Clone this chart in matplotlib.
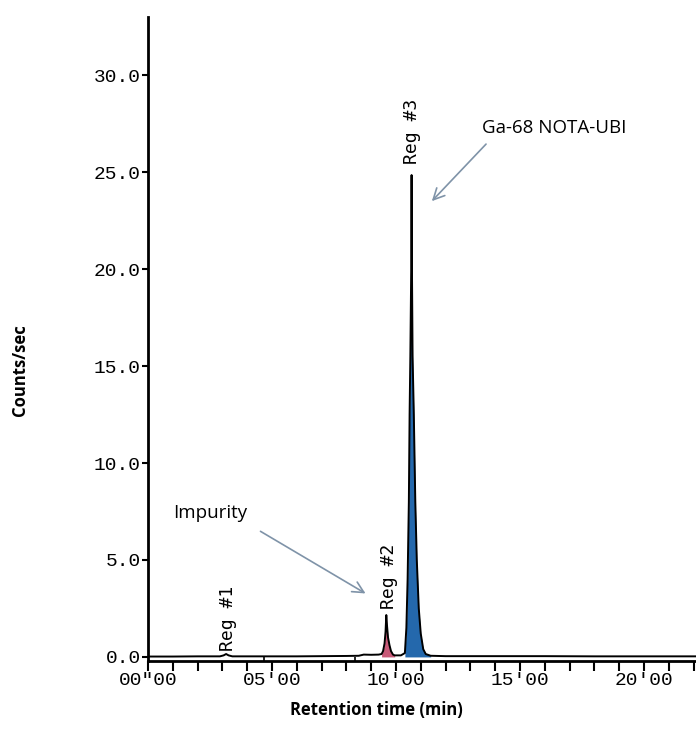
import matplotlib
matplotlib.use("Agg")
import matplotlib.pyplot as plt

# ---- data ----
time_min = [0.0, 1.0, 2.0, 2.9, 3.05, 3.15, 3.25, 3.4, 4.0, 5.0, 6.0, 7.0, 8.0, 8.5, 8.7,
            9.0, 9.3, 9.42, 9.48, 9.54, 9.58, 9.61, 9.64, 9.68, 9.74, 9.80, 9.88, 9.95,
            10.2, 10.36, 10.42, 10.47, 10.52, 10.55, 10.58, 10.615, 10.63, 10.645, 10.67,
            10.72, 10.78, 10.84, 10.92, 11.0, 11.1, 11.2, 11.4, 12.0, 14.0, 16.0, 18.0,
            20.0, 22.2]
counts = [0.02, 0.02, 0.03, 0.03, 0.08, 0.15, 0.08, 0.03, 0.03, 0.03, 0.03, 0.04, 0.05, 0.06, 0.12,
          0.11, 0.12, 0.15, 0.3, 0.7, 1.3, 2.16, 1.6, 1.0, 0.6, 0.3, 0.12, 0.08,
          0.08, 0.2, 1.5, 4.0, 8.0, 12.5, 15.5, 20.0, 24.85, 20.0, 15.5,
          12.5, 8.0, 5.0, 2.5, 1.2, 0.4, 0.15, 0.06, 0.04, 0.04, 0.04, 0.03,
          0.03, 0.03]
region2 = (9.42, 9.95)
region3 = (10.30, 11.40)
region_marks = [4.68, 8.35]
reg_labels = ["Reg #1", "Reg #2", "Reg #3"]
reg_label_pos = [(3.23, 0.3), (9.72, 2.45), (10.65, 25.4)]
yticks = [0.0, 5.0, 10.0, 15.0, 20.0, 25.0, 30.0]
xticks_major = [0, 5, 10, 15, 20]
xtick_labels = ['00"00', "05'00", "10'00", "15'00", "20'00"]

fig = plt.figure(figsize=(6.96, 7.47), dpi=100)
ax = fig.add_axes([148/696, 86/747, 1 - 148/696, (747 - 86 - 17)/747])

ax.plot(time_min, counts, color="black", lw=1.4, zorder=3)

def fill_region(lo, hi, color):
    xs = [t for t in time_min if lo <= t <= hi]
    ys = [c for t, c in zip(time_min, counts) if lo <= t <= hi]
    ax.fill_between(xs, 0, ys, color=color, lw=0, zorder=2)

fill_region(*region2, "#c85a78")
fill_region(*region3, "#2468ac")

ax.vlines(region_marks, -0.21, 0, color="black", lw=1.2)

ax.set_xlim(0, 22.1)
ax.set_ylim(-0.21, 33.0)
ax.spines["top"].set_visible(False)
ax.spines["right"].set_visible(False)
ax.spines["left"].set_linewidth(2)
ax.spines["bottom"].set_linewidth(2)

mono = "Liberation Mono"
ax.set_yticks(yticks)
ax.set_yticklabels([f"{v:.1f}" for v in yticks], fontfamily=mono, fontsize=14)
ax.set_xticks(xticks_major)
ax.set_xticklabels(xtick_labels, fontfamily=mono, fontsize=14)
ax.set_xticks(list(range(0, 23)), minor=True)
ax.tick_params(axis="y", length=4, width=1.5, pad=1)
ax.tick_params(axis="x", which="both", length=7, width=1.5, pad=1, direction="out")

for lab, (x, y) in zip(reg_labels, reg_label_pos):
    ax.text(x, y, lab, rotation=90, ha="center", va="bottom",
            fontfamily="DejaVu Sans Mono", fontsize=13, zorder=4)

arrow = dict(arrowstyle="->", color="#7f93a8", lw=1.2, mutation_scale=20)
ax.annotate("", xy=(8.87, 3.2), xytext=(4.44, 6.55), arrowprops=arrow)
ax.text(1.0, 7.42, "Impurity", fontfamily="Open Sans", fontsize=13.5, va="center", ha="left")
ax.annotate("", xy=(11.37, 23.4), xytext=(13.71, 26.55), arrowprops=arrow)
ax.text(16.37, 27.3, "Ga-68 NOTA-UBI", fontfamily="Open Sans", fontsize=13.5,
        va="center", ha="center")

fig.text(20/696, 1 - 370/747, "Counts/sec", rotation=90, ha="center", va="center",
         fontfamily="Open Sans", fontweight="bold", fontsize=12)
fig.text(376/696, 1 - 710/747, "Retention time (min)", ha="center", va="center",
         fontfamily="Open Sans", fontweight="bold", fontsize=12)

fig.savefig("out.png", dpi=100)
